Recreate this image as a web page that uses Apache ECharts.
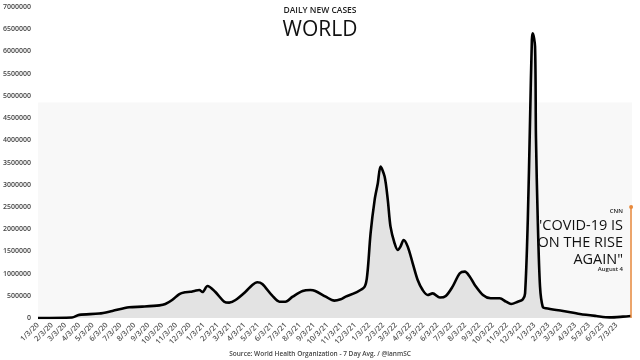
<!DOCTYPE html>
<html>
<head>
<meta charset="utf-8">
<script src="https://cdn.jsdelivr.net/npm/echarts@6/dist/echarts.min.js"></script>
<style>html,body{margin:0;padding:0;background:#fff;}#c{width:640px;height:360px;}</style>
</head>
<body>
<div id="c"></div>
<script>
// 7-day average of daily new cases (world)
const dates = [
 '2020-01-03','2020-01-05','2020-03-18','2020-04-03','2020-05-17','2020-06-15','2020-07-22','2020-08-20',
 '2020-09-27','2020-10-10','2020-10-25','2020-11-10','2020-11-23','2020-12-04','2020-12-15','2020-12-24',
 '2020-12-31','2021-01-11','2021-01-28','2021-02-17','2021-02-28','2021-03-14','2021-04-05','2021-04-20',
 '2021-05-01','2021-05-12','2021-06-03','2021-06-19','2021-07-02','2021-07-18','2021-08-09','2021-08-26',
 '2021-09-06','2021-09-29','2021-10-18','2021-11-01','2021-11-12','2021-12-04','2021-12-24','2021-12-30',
 '2022-01-06','2022-01-15','2022-01-22','2022-01-28','2022-02-06','2022-02-13','2022-02-19','2022-02-28',
 '2022-03-07','2022-03-13','2022-03-20','2022-03-29','2022-04-09','2022-04-20','2022-05-01','2022-05-12',
 '2022-05-23','2022-06-08','2022-06-21','2022-07-06','2022-07-22','2022-08-02','2022-08-13','2022-08-24',
 '2022-09-11','2022-09-28','2022-10-18','2022-11-01','2022-11-12','2022-11-27','2022-12-08','2022-12-13',
 '2022-12-19','2022-12-24','2022-12-28','2022-12-30','2023-01-04','2023-01-06','2023-01-10','2023-01-15',
 '2023-01-21','2023-01-28','2023-03-07','2023-04-13','2023-05-19','2023-06-18','2023-07-17','2023-08-04'
];
const cases = [
 0,0,10000,70000,100000,158000,240000,255000,
 285000,315000,405000,540000,580000,590000,615000,630000,
 585000,720000,590000,367000,345000,405000,590000,743000,
 805000,765000,503000,367000,367000,480000,608000,630000,
 608000,480000,390000,420000,480000,570000,705000,1007000,
 1907000,2660000,3034000,3408000,3183000,2660000,2056000,1682000,
 1532000,1607000,1757000,1607000,1232000,856000,630000,518000,
 555000,460000,495000,705000,1007000,1043000,930000,743000,
 518000,443000,443000,367000,315000,367000,420000,555000,
 2207000,4460000,6260000,6410000,6110000,4084000,2207000,705000,
 250000,218000,158000,90000,45000,15000,30000,45000
];
// monthly x-axis tick dates
const tickDates = [];
for (let y = 2020; y <= 2023; y++) {
  for (let m = 1; m <= 12; m++) {
    if (y === 2023 && m > 7) break;
    tickDates.push(y + '-' + String(m).padStart(2,'0') + '-03');
  }
}
const xRange = ['2020-01-03', '2023-08-06'];
const yTicks = {min: 0, max: 7000000, interval: 500000};
const annotationDate = '2023-08-04';
const annotationTop = 2500000;
const quoteLines = ['"COVID-19 IS', 'ON THE RISE', 'AGAIN"'];

function ts(d) { const p = d.split('-').map(Number); return Date.UTC(p[0], p[1] - 1, p[2]); }

const chart = echarts.init(document.getElementById('c'), null, {renderer: 'canvas'});
const FONT = '"Open Sans", Lato, sans-serif';
const titles = [
  {text: 'DAILY NEW CASES', left: 'center', top: 1,
   textStyle: {fontSize: 8.5, fontWeight: 600, color: '#222', fontFamily: FONT}},
  {text: 'WORLD', left: 'center', top: 15,
   textStyle: {fontSize: 21, fontWeight: 500, color: '#111', fontFamily: FONT}},
  {text: 'Source: World Health Organization - 7 Day Avg. / @ianmSC', left: 'center', top: 346,
   textStyle: {fontSize: 6.5, fontWeight: 600, color: '#444', fontFamily: FONT}},
  {text: 'CNN', right: 12, top: 203,
   textStyle: {fontSize: 6, fontWeight: 600, color: '#222', fontFamily: FONT}}
];
quoteLines.forEach((t, i) => titles.push({
  text: t, right: 12, top: 213 + i * 17,
  textStyle: {fontSize: 14.5, fontWeight: 500, color: '#111', fontFamily: FONT}
}));
titles.push({text: 'August 4', right: 12, top: 261,
  textStyle: {fontSize: 6, fontWeight: 600, color: '#222', fontFamily: FONT}});

chart.setOption({
  animation: false,
  backgroundColor: '#ffffff',
  grid: {left: 36, right: 8, top: 7, bottom: 42},
  title: titles,
  xAxis: {
    type: 'value',
    min: ts(xRange[0]),
    max: ts(xRange[1]),
    axisLine: {show: false},
    axisTick: {show: false},
    splitLine: {show: false},
    axisLabel: {
      customValues: tickDates.map(ts),
      rotate: 45,
      margin: 6,
      fontSize: 7.5,
      fontWeight: 600,
      color: '#555',
      fontFamily: FONT,
      formatter: function (v) {
        const d = new Date(v);
        return (d.getUTCMonth() + 1) + '/' + d.getUTCDate() + '/' + String(d.getUTCFullYear()).slice(2);
      }
    }
  },
  yAxis: {
    type: 'value',
    min: yTicks.min, max: yTicks.max, interval: yTicks.interval,
    axisLine: {show: false},
    axisTick: {show: false},
    splitLine: {show: false},
    axisLabel: {fontSize: 7, color: '#444', fontWeight: 600, fontFamily: FONT, margin: 7,
      formatter: v => String(v)}
  },
  series: [{
    type: 'line',
    data: dates.map((d, i) => [ts(d), cases[i]]),
    showSymbol: false,
    smooth: 0.3,
    lineStyle: {color: '#000', width: 2.6},
    areaStyle: {color: '#e3e3e3', opacity: 1},
    z: 3,
    markArea: {
      silent: true,
      itemStyle: {color: '#f8f8f8'},
      data: [[{yAxis: 0}, {yAxis: 4850000}]]
    },
    markLine: {
      silent: true,
      symbol: ['none', 'circle'],
      symbolSize: 4,
      label: {show: false},
      lineStyle: {color: '#e8893c', width: 1.5, type: 'solid'},
      data: [[{coord: [ts(annotationDate), 0]}, {coord: [ts(annotationDate), annotationTop]}]]
    }
  }]
});
</script>
</body>
</html>
